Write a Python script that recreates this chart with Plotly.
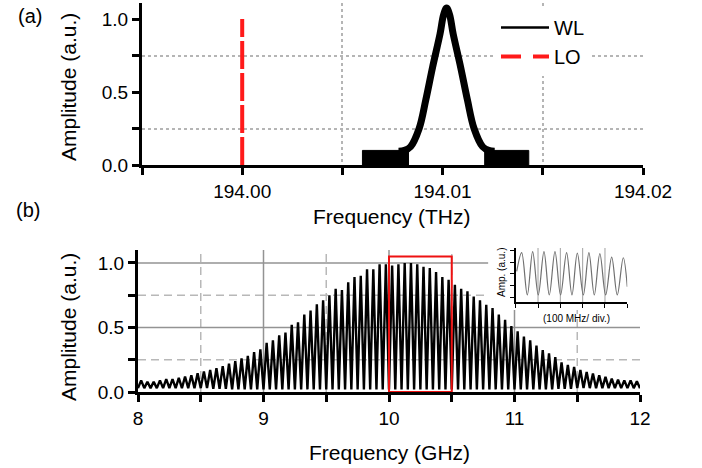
import plotly.graph_objects as go

W, H = 702, 468
FONT = "Liberation Sans, Arial, sans-serif"

# ---------------- panel (a) data ----------------
LO_THZ = [194.0, 194.0]
LO_AMP = [0.0, 1.0]

WL_THZ = [194.0078, 194.0081, 194.0084, 194.00883, 194.00916, 194.0095, 194.009875,
          194.01005, 194.0102, 194.01035, 194.010525, 194.0109, 194.01124, 194.01157,
          194.0120, 194.0123, 194.0126]
WL_AMP = [0.095, 0.10, 0.125, 0.25, 0.445, 0.67, 0.90,
          1.03, 1.075, 1.03, 0.90, 0.67, 0.445, 0.25,
          0.125, 0.10, 0.095]

FLOOR_L_THZ = [194.0060, 194.0060, 194.0083, 194.0083]
FLOOR_L_AMP = [0.0, 0.10, 0.10, 0.0]
FLOOR_R_THZ = [194.0121, 194.0121, 194.0143, 194.0143]
FLOOR_R_AMP = [0.0, 0.10, 0.10, 0.0]

# ---------------- panel (b) data ----------------
PEAK_GHZ = [8.025, 8.075, 8.125, 8.175, 8.225, 8.275, 8.325, 8.375, 8.425, 8.475,
            8.525, 8.575, 8.625, 8.675, 8.725, 8.775, 8.825, 8.875, 8.925, 8.975,
            9.025, 9.075, 9.125, 9.175, 9.225, 9.275, 9.325, 9.375, 9.425, 9.475,
            9.525, 9.575, 9.625, 9.675, 9.725, 9.775, 9.825, 9.875, 9.925, 9.975,
            10.025, 10.075, 10.125, 10.175, 10.225, 10.275, 10.325, 10.375, 10.425, 10.475,
            10.525, 10.575, 10.625, 10.675, 10.725, 10.775, 10.825, 10.875, 10.925, 10.975,
            11.025, 11.075, 11.125, 11.175, 11.225, 11.275, 11.325, 11.375, 11.425, 11.475,
            11.525, 11.575, 11.625, 11.675, 11.725, 11.775, 11.825, 11.875, 11.925, 11.975]
PEAK_AMP = [0.09, 0.08, 0.08, 0.09, 0.10, 0.10, 0.11, 0.12, 0.13, 0.145,
            0.16, 0.17, 0.185, 0.20, 0.22, 0.24, 0.26, 0.28, 0.31, 0.33,
            0.38, 0.40, 0.44, 0.46, 0.52, 0.54, 0.60, 0.63, 0.68, 0.71,
            0.75, 0.80, 0.79, 0.85, 0.89, 0.90, 0.95, 0.95, 0.99, 0.99,
            0.98, 0.99, 1.00, 1.00, 0.99, 0.97, 0.96, 0.93, 0.89, 0.87,
            0.83, 0.80, 0.78, 0.74, 0.71, 0.675, 0.65, 0.60, 0.56, 0.51,
            0.47, 0.43, 0.40, 0.36, 0.325, 0.30, 0.27, 0.23, 0.21, 0.195,
            0.17, 0.156, 0.143, 0.13, 0.117, 0.104, 0.096, 0.09, 0.09, 0.083]
TROUGH_GHZ = [8.00, 8.05, 8.10, 8.15, 8.20, 8.25, 8.30, 8.35, 8.40, 8.45,
              8.50, 8.55, 8.60, 8.65, 8.70, 8.75, 8.80, 8.85, 8.90, 8.95,
              9.00, 9.05, 9.10, 9.15, 9.20, 9.25, 9.30, 9.35, 9.40, 9.45,
              9.50, 9.55, 9.60, 9.65, 9.70, 9.75, 9.80, 9.85, 9.90, 9.95,
              10.00, 10.05, 10.10, 10.15, 10.20, 10.25, 10.30, 10.35, 10.40, 10.45,
              10.50, 10.55, 10.60, 10.65, 10.70, 10.75, 10.80, 10.85, 10.90, 10.95,
              11.00, 11.05, 11.10, 11.15, 11.20, 11.25, 11.30, 11.35, 11.40, 11.45,
              11.50, 11.55, 11.60, 11.65, 11.70, 11.75, 11.80, 11.85, 11.90, 11.95,
              12.00]
TROUGH_AMP = [0.03, 0.03, 0.03, 0.03, 0.03, 0.03, 0.03, 0.03, 0.03, 0.03,
              0.03, 0.03, 0.025, 0.025, 0.025, 0.02, 0.02, 0.02, 0.02, 0.02,
              0.02, 0.02, 0.02, 0.02, 0.02, 0.02, 0.02, 0.02, 0.02, 0.02,
              0.02, 0.02, 0.02, 0.02, 0.02, 0.02, 0.02, 0.02, 0.02, 0.02,
              0.02, 0.02, 0.02, 0.02, 0.02, 0.02, 0.02, 0.02, 0.02, 0.02,
              0.02, 0.02, 0.02, 0.02, 0.02, 0.02, 0.02, 0.02, 0.02, 0.02,
              0.02, 0.02, 0.02, 0.02, 0.02, 0.02, 0.02, 0.025, 0.025, 0.025,
              0.03, 0.03, 0.03, 0.03, 0.03, 0.03, 0.03, 0.03, 0.03, 0.03,
              0.03]

BOX_GHZ = [10.0, 10.5]
BOX_AMP = [0.0, 1.05]

# inset data (MHz offset within the red box, amplitude)
INSET_MHZ = [4.5, 26.7, 52, 76, 101, 126.7, 150.5, 176, 201, 228, 252,
             276, 303, 328, 352, 377, 403, 430, 455, 482, 500]
INSET_AMP = [0.64, 0.96, 0.24, 0.977, 0.24, 0.977, 0.24, 0.977, 0.24, 0.96, 0.24,
             0.953, 0.24, 0.96, 0.24, 0.943, 0.24, 0.884, 0.24, 0.874, 0.38]
INSET_GRID_MHZ = [100, 200, 300, 400]

GRID_MAJOR_X = [9, 10, 11]
GRID_MINOR_X = [8.5, 9.5, 10.5, 11.5]
GRID_MAJOR_Y = [0.5, 1.0]
GRID_MINOR_Y = [0.25, 0.75]

# interleave troughs and peaks for the comb trace
spec_x, spec_y = [], []
for i in range(len(PEAK_GHZ)):
    spec_x += [TROUGH_GHZ[i], PEAK_GHZ[i]]
    spec_y += [TROUGH_AMP[i], PEAK_AMP[i]]
spec_x.append(TROUGH_GHZ[-1])
spec_y.append(TROUGH_AMP[-1])


def px_x(p):
    return p / W


def px_y(p):
    return 1 - p / H


fig = go.Figure()

# ---- panel (a) traces
fig.add_trace(go.Scatter(x=FLOOR_L_THZ, y=FLOOR_L_AMP, mode="lines", fill="toself",
                         fillcolor="black", line=dict(color="black", width=1),
                         showlegend=False, xaxis="x", yaxis="y", hoverinfo="skip"))
fig.add_trace(go.Scatter(x=FLOOR_R_THZ, y=FLOOR_R_AMP, mode="lines", fill="toself",
                         fillcolor="black", line=dict(color="black", width=1),
                         showlegend=False, xaxis="x", yaxis="y", hoverinfo="skip"))
fig.add_trace(go.Scatter(x=WL_THZ, y=WL_AMP, mode="lines",
                         line=dict(color="black", width=7, shape="spline", smoothing=1.0),
                         showlegend=False, xaxis="x", yaxis="y"))
fig.add_trace(go.Scatter(x=LO_THZ, y=LO_AMP, mode="lines",
                         line=dict(color="#ff1a1a", width=4, dash="28px,4px"),
                         showlegend=False, xaxis="x", yaxis="y"))
# legend entries
fig.add_trace(go.Scatter(x=[None], y=[None], mode="lines", name="WL",
                         line=dict(color="black", width=2.5), xaxis="x", yaxis="y"))
fig.add_trace(go.Scatter(x=[None], y=[None], mode="lines", name="LO",
                         line=dict(color="#ff1a1a", width=4, dash="20px,12px"),
                         xaxis="x", yaxis="y"))

# ---- panel (b) traces
fig.add_trace(go.Scatter(x=spec_x, y=spec_y, mode="lines",
                         line=dict(color="black", width=2.4),
                         showlegend=False, xaxis="x2", yaxis="y2"))

# ---- inset trace
fig.add_trace(go.Scatter(x=INSET_MHZ, y=INSET_AMP, mode="lines",
                         line=dict(color="#707070", width=1.2, shape="spline", smoothing=1.0),
                         showlegend=False, xaxis="x3", yaxis="y3"))

axis_common = dict(showline=True, linecolor="black", linewidth=3, ticks="outside",
                   ticklen=7, tickwidth=2.5, tickcolor="black", zeroline=False,
                   automargin=False,
                   tickfont=dict(family=FONT, size=19, color="black"), mirror=False)

fig.update_layout(
    width=W, height=H, margin=dict(l=0, r=0, t=0, b=0, pad=0, autoexpand=False),
    paper_bgcolor="white", plot_bgcolor="white",
    font=dict(family=FONT, color="black"),
    showlegend=True,
    legend=dict(x=px_x(496), y=px_y(8), xanchor="left", yanchor="top",
                bgcolor="white", borderwidth=0, itemwidth=48,
                font=dict(family=FONT, size=20, color="black"),
                tracegroupgap=0),
    xaxis=dict(domain=[px_x(142), px_x(643)], range=[193.995 - 1e-7, 194.02 + 1e-7],
               anchor="y", tick0=194.0, dtick=0.01, tickformat=".2f", showgrid=False,
               minor=dict(dtick=0.005, ticks="outside", ticklen=7, tickwidth=2.5,
                          tickcolor="black", showgrid=True, griddash="dot",
                          gridcolor="#b5b5b5", gridwidth=1.5),
               **axis_common),
    yaxis=dict(domain=[px_y(165), px_y(3)], range=[0, 1.11], anchor="x",
               tick0=0, dtick=0.5, tickformat=".1f", showgrid=False,
               minor=dict(dtick=0.25, ticks="outside", ticklen=7, tickwidth=2.5,
                          tickcolor="black", showgrid=True, griddash="dot",
                          gridcolor="#b5b5b5", gridwidth=1.5),
               **axis_common),
    xaxis2=dict(domain=[px_x(138), px_x(640)], range=[8, 12], anchor="y2",
                tick0=8, dtick=1, showgrid=False,
                minor=dict(dtick=0.5, ticks="outside", ticklen=7, tickwidth=2.5,
                           tickcolor="black", showgrid=False),
                **axis_common),
    yaxis2=dict(domain=[px_y(392), px_y(250)], range=[0, 1.10], anchor="x2",
                tick0=0, dtick=0.5, tickformat=".1f", showgrid=False,
                minor=dict(dtick=0.25, ticks="outside", ticklen=7, tickwidth=2.5,
                           tickcolor="black", showgrid=False),
                **axis_common),
    xaxis3=dict(domain=[px_x(515.7), px_x(627.3)], range=[0, 500], anchor="y3",
                tick0=0, dtick=100, showticklabels=False, showgrid=False, zeroline=False,
                automargin=False,
                showline=True, linecolor="black", linewidth=1.5, ticks="outside",
                ticklen=4, tickwidth=1.2, tickcolor="black"),
    yaxis3=dict(domain=[px_y(302), px_y(248)], range=[0.12, 1.04], anchor="x3",
                tick0=0, dtick=0.2, showticklabels=False, showgrid=False, zeroline=False,
                automargin=False,
                showline=True, linecolor="black", linewidth=1.5, ticks="outside",
                ticklen=4, tickwidth=1.2, tickcolor="black"),
)

shapes = []
for gx in GRID_MINOR_X:
    shapes.append(dict(type="line", xref="x2", yref="y2", x0=gx, x1=gx, y0=0, y1=1.10,
                       line=dict(color="#b8b8b8", width=1.5, dash="8px,5px"), layer="between"))
for gy in GRID_MINOR_Y:
    shapes.append(dict(type="line", xref="x2", yref="y2", x0=8, x1=12, y0=gy, y1=gy,
                       line=dict(color="#b8b8b8", width=1.5, dash="8px,5px"), layer="between"))
for gx in GRID_MAJOR_X:
    shapes.append(dict(type="line", xref="x2", yref="y2", x0=gx, x1=gx, y0=0, y1=1.10,
                       line=dict(color="#939393", width=1.5), layer="between"))
for gy in GRID_MAJOR_Y:
    shapes.append(dict(type="line", xref="x2", yref="y2", x0=8, x1=12, y0=gy, y1=gy,
                       line=dict(color="#939393", width=1.5), layer="between"))
# white area behind the inset
shapes.append(dict(type="rect", xref="x2", yref="y2", x0=10.79, x1=12.0, y0=0.636, y1=1.10,
                   fillcolor="white", line=dict(width=0), layer="between"))
# red selection box
shapes.append(dict(type="rect", xref="x2", yref="y2", x0=BOX_GHZ[0], x1=BOX_GHZ[1],
                   y0=BOX_AMP[0], y1=BOX_AMP[1], line=dict(color="#ee1111", width=2),
                   layer="above"))
# inset grid
for gx in INSET_GRID_MHZ:
    shapes.append(dict(type="line", xref="x3", yref="y3", x0=gx, x1=gx, y0=0.12, y1=1.04,
                       line=dict(color="#a0a0a0", width=1), layer="between"))
fig.update_layout(shapes=shapes)

ann = []


def add_text(text, x, y, size, angle=0):
    ann.append(dict(text=text, x=px_x(x), y=px_y(y), xref="paper", yref="paper",
                    showarrow=False, textangle=angle, xanchor="center", yanchor="middle",
                    font=dict(family=FONT, size=size, color="black")))


add_text("(a)", 30, 16, 20)
add_text("(b)", 28, 210, 20)
add_text("Amplitude (a.u.)", 68, 87, 21, -90)
add_text("Amplitude (a.u.)", 68, 327, 21, -90)
add_text("Frequency (THz)", 392, 216, 21)
add_text("Frequency (GHz)", 389, 452, 21)
add_text("Amp. (a.u.)", 501, 273, 10, -90)
add_text("(100 MHz/ div.)", 576, 318, 10)
fig.update_layout(annotations=ann)

fig.write_html("out.html")
